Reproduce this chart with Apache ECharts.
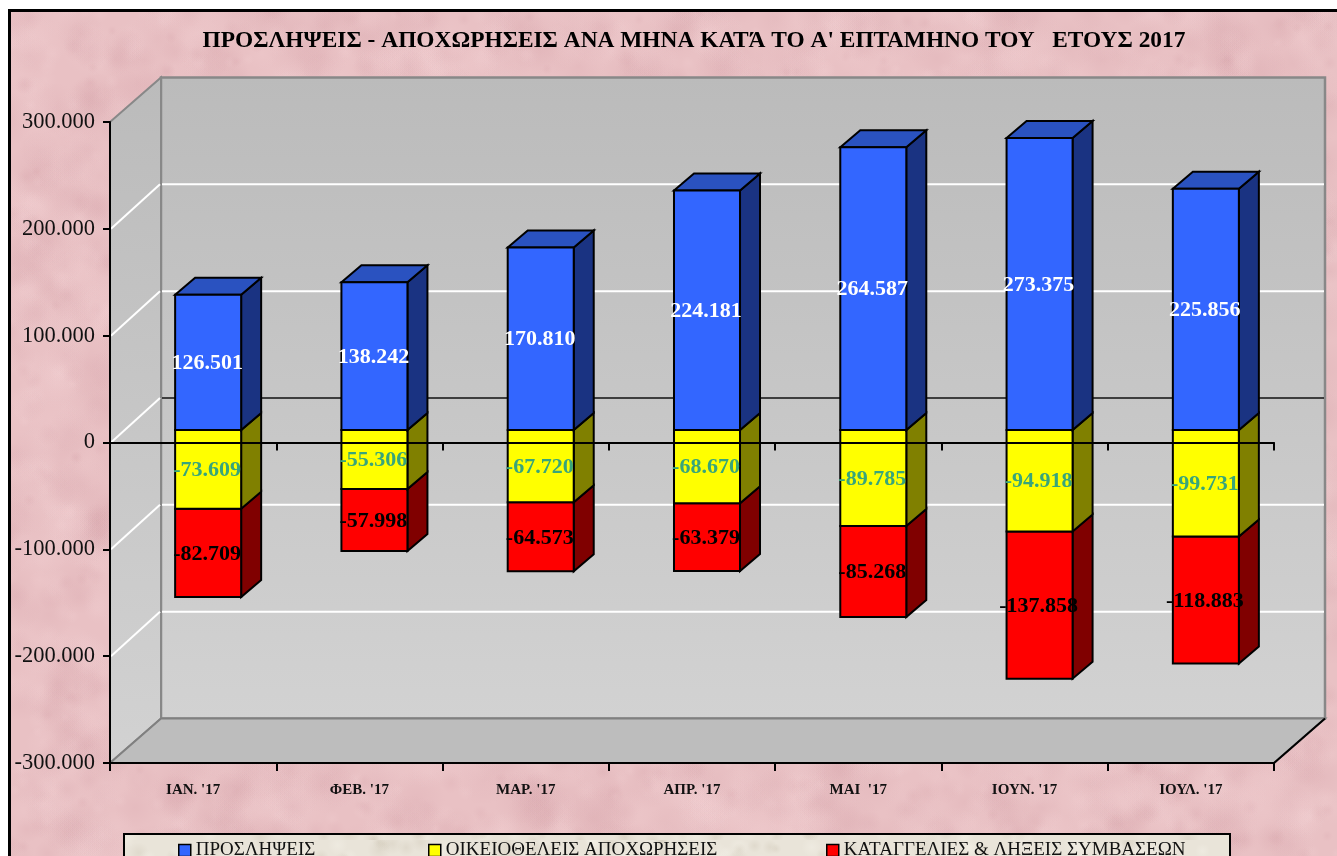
<!DOCTYPE html>
<html><head><meta charset="utf-8">
<style>html,body{margin:0;padding:0;background:#fff;overflow:hidden}#c{width:1337px;height:856px}</style>
<script src="https://cdn.jsdelivr.net/npm/echarts@6/dist/echarts.min.js"></script>
</head><body><div id="c"></div>
<script>
const titleText = "ΠΡΟΣΛΗΨΕΙΣ - ΑΠΟΧΩΡΗΣΕΙΣ ΑΝΑ ΜΗΝΑ ΚΑΤΆ ΤΟ Α' ΕΠΤΑΜΗΝΟ ΤΟΥ   ΕΤΟΥΣ 2017";
const categories = ["ΙΑΝ. '17","ΦΕΒ. '17","ΜΑΡ. '17","ΑΠΡ. '17","ΜΑΙ  '17","ΙΟΥΝ. '17","ΙΟΥΛ. '17"];
const hires = [126501,138242,170810,224181,264587,273375,225856];
const resignations = [-73609,-55306,-67720,-68670,-89785,-94918,-99731];
const terminations = [-82709,-57998,-64573,-63379,-85268,-137858,-118883];
const nameHires = "ΠΡΟΣΛΗΨΕΙΣ";
const nameResign = "ΟΙΚΕΙΟΘΕΛΕΙΣ ΑΠΟΧΩΡΗΣΕΙΣ";
const nameTerm = "ΚΑΤΑΓΓΕΛΙΕΣ & ΛΗΞΕΙΣ ΣΥΜΒΑΣΕΩΝ";
const gridTicks = [-200000,-100000,0,100000,200000];

const FONT = '"Liberation Serif", serif';
const WALL = {dx:51, dy:-44.5};
const BAR = {ox:15, oy:-12.5, dx:20, dy:-17, width:0.397};

function fmt(v){
  const s = Math.abs(v).toString().replace(/\B(?=(\d{3})+$)/g,'.');
  return (v<0?'-':'')+s;
}
function lcg(seed){let s=seed;return ()=>{s=(s*1664525+1013904223)%4294967296;return s/4294967296;};}
function texture(w,h,base,dark,light,n,seed,maxR){
  const c=document.createElement('canvas');c.width=w;c.height=h;
  const g=c.getContext('2d');g.fillStyle=base;g.fillRect(0,0,w,h);
  const r=lcg(seed);
  for(let i=0;i<n;i++){
    const x=r()*w,y=r()*h,R=5+r()*maxR,col=r()<0.5?dark:light;
    const gr=g.createRadialGradient(x,y,0,x,y,R);
    gr.addColorStop(0,col);gr.addColorStop(1,col.replace(/[\d.]+\)$/,'0)'));
    g.fillStyle=gr;
    g.fillRect(x-R,y-R,R*2,R*2);
  }
  return c;
}
const pinkTex = texture(1337,856,'#e9c1c4','rgba(195,135,145,0.10)','rgba(248,218,220,0.14)',4200,7,26);
const beigeTex = texture(1337,60,'#e9e4d9','rgba(190,180,160,0.22)','rgba(250,248,240,0.30)',320,11,7);

function wallItem(params, api){
  const cs = params.coordSys;
  const L=cs.x, R=cs.x+cs.width, T=cs.y, B=cs.y+cs.height;
  const dx=WALL.dx, dy=WALL.dy;
  const grad = new echarts.graphic.LinearGradient(0,0,0,1,[{offset:0,color:'#bbbbbb'},{offset:1,color:'#d2d2d2'}]);
  const kids = [
    {type:'polygon',shape:{points:[[L+dx,T+dy],[R+dx,T+dy],[R+dx,B+dy],[L+dx,B+dy]]},style:{fill:grad,stroke:'#888888',lineWidth:2.5}},
    {type:'polygon',shape:{points:[[L,T],[L+dx,T+dy],[L+dx,B+dy],[L,B]]},style:{fill:grad,stroke:'#888888',lineWidth:2}},
    {type:'polygon',shape:{points:[[L,B],[L+dx,B+dy],[R+dx,B+dy],[R,B]]},style:{fill:'#bdbdbd',stroke:'#808080',lineWidth:2}},
    {type:'line',shape:{x1:R,y1:B,x2:R+dx,y2:B+dy},style:{stroke:'#000',lineWidth:2}}
  ];
  gridTicks.forEach(v=>{
    const y=api.coord([0,v])[1];
    kids.push({type:'line',shape:{x1:L+1,y1:y,x2:L+dx-1,y2:y+dy},style:{stroke:'#fff',lineWidth:2}});
    kids.push({type:'line',shape:{x1:L+dx+1,y1:y+dy,x2:R+dx-1,y2:y+dy},style:v===0?{stroke:'#111',lineWidth:1.5}:{stroke:'#fff',lineWidth:2}});
  });
  return {type:'group',children:kids};
}
function barRenderer(front,side,topFace){
  return function(params,api){
    const i=api.value(0);
    const a=api.coord([i,api.value(1)]), b=api.coord([i,api.value(2)]);
    const w=api.size([1,0])[0]*BAR.width;
    const x0=a[0]-w/2+BAR.ox, x1=x0+w;
    const ya=a[1]+BAR.oy, yb=b[1]+BAR.oy;
    const yt=Math.min(ya,yb), yl=Math.max(ya,yb);
    const st=(f)=>({fill:f,stroke:'#000',lineWidth:2,lineJoin:'miter'});
    const kids=[
      {type:'polygon',shape:{points:[[x1,yt],[x1+BAR.dx,yt+BAR.dy],[x1+BAR.dx,yl+BAR.dy],[x1,yl]]},style:st(side)},
    ];
    if(topFace) kids.push({type:'polygon',shape:{points:[[x0,yt],[x0+BAR.dx,yt+BAR.dy],[x1+BAR.dx,yt+BAR.dy],[x1,yt]]},style:st(topFace)});
    kids.push({type:'rect',shape:{x:x0,y:yt,width:w,height:yl-yt},style:st(front)});
    return {type:'group',children:kids};
  };
}
function labelRenderer(color){
  return function(params,api){
    const i=api.value(0);
    const m=api.coord([i,(api.value(1)+api.value(2))/2]);
    return {type:'text',x:m[0]+BAR.ox-1,y:m[1]+BAR.oy+1,style:{text:fmt(api.value(3)),fill:color,
      font:'bold 22px '+FONT,align:'center',verticalAlign:'middle'}};
  };
}
const hiresData = hires.map((v,i)=>[i,0,v,v]);
const resignData = resignations.map((v,i)=>[i,0,v,v]);
const termData = terminations.map((v,i)=>[i,resignations[i],resignations[i]+v,v]);
const enc={x:0,y:[1,2]};
function barSeries(name,data,front,side,topFace){
  return {type:'custom',name,data,encode:enc,z:3,silent:true,clip:false,itemStyle:{color:front},
    renderItem:barRenderer(front,side,topFace)};
}
function labelSeries(data,color){
  return {type:'custom',data,encode:enc,z:8,silent:true,clip:false,renderItem:labelRenderer(color)};
}
function legendAt(left,name){
  return {left,top:836,itemWidth:12,itemHeight:12,icon:'rect',data:[name],selectedMode:false,
    itemStyle:{borderColor:'#000',borderWidth:1.5},
    textStyle:{fontFamily:FONT,fontSize:19,color:'#111'}};
}
const chart=echarts.init(document.getElementById('c'),null,{renderer:'canvas',width:1337,height:856});
chart.setOption({
  animation:false,
  backgroundColor:'#fff',
  title:{text:titleText,left:689,top:24,textAlign:'center',
    textStyle:{fontFamily:FONT,fontSize:23.4,fontWeight:'bold',color:'#000'}},
  grid:{left:110,right:63,top:122,bottom:93},
  legend:[legendAt(173,nameHires),legendAt(423,nameResign),legendAt(821,nameTerm)],
  xAxis:[
    {type:'category',data:categories,position:'bottom',z:6,
     axisLine:{onZero:false,lineStyle:{color:'#000',width:2}},
     axisTick:{show:true,alignWithLabel:false,length:8,lineStyle:{color:'#000',width:2}},
     axisLabel:{margin:20,fontFamily:FONT,fontSize:15,fontWeight:'bold',color:'#111',interval:0}},
    {type:'category',data:categories,position:'top',z:6,
     axisLine:{onZero:true,lineStyle:{color:'#000',width:2}},
     axisTick:{show:true,inside:true,alignWithLabel:false,length:8,lineStyle:{color:'#000',width:2}},
     axisLabel:{show:false}}
  ],
  yAxis:{type:'value',min:-300000,max:300000,interval:100000,
    axisLine:{show:true,lineStyle:{color:'#000',width:2}},
    axisTick:{show:true,length:7,lineStyle:{color:'#000',width:2}},
    splitLine:{show:false},z:6,
    axisLabel:{margin:15,padding:[2,0,0,0],fontFamily:FONT,fontSize:22.5,color:'#111',formatter:fmt}},
  graphic:[
    {type:'rect',z:-10,silent:true,shape:{x:9.5,y:10.5,width:1345,height:860},
     style:{fill:{image:pinkTex,repeat:'repeat'},stroke:'#000',lineWidth:3}},
    {type:'rect',z:-9,silent:true,shape:{x:124,y:834,width:1106,height:40},
     style:{fill:{image:beigeTex,repeat:'repeat'},stroke:'#000',lineWidth:2}}
  ],
  series:[
    {type:'custom',data:[[0,0]],z:1,silent:true,clip:false,renderItem:wallItem},
    barSeries(nameTerm,termData,'#ff0000','#800000',null),
    barSeries(nameResign,resignData,'#ffff00','#808000',null),
    barSeries(nameHires,hiresData,'#3366ff','#1a3382','#2a52c0'),
    labelSeries(hiresData,'#ffffff'),
    labelSeries(resignData,'#38a57a'),
    labelSeries(termData,'#000000')
  ]
});
</script></body></html>
